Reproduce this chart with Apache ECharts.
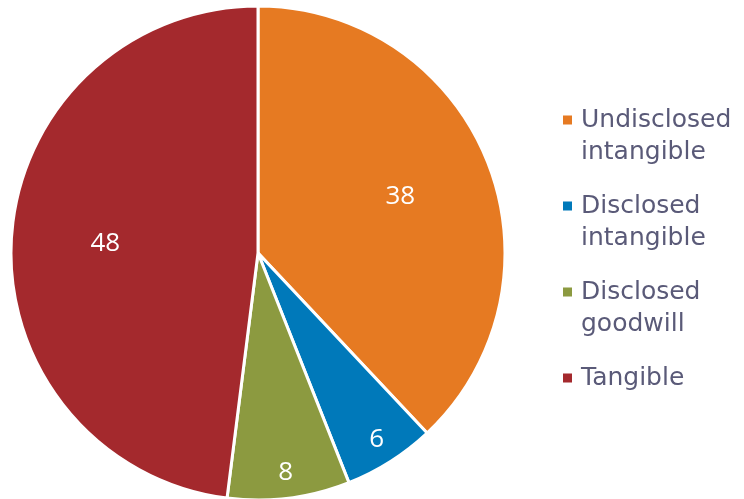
<!DOCTYPE html>
<html><head><meta charset="utf-8">
<script src="https://cdn.jsdelivr.net/npm/echarts@6/dist/echarts.min.js"></script>
<style>html,body{margin:0;padding:0;background:#fff}#c{width:744px;height:499px}</style>
</head><body><div id="c"></div>
<script>
const categories = ['Undisclosed intangible', 'Disclosed intangible', 'Disclosed goodwill', 'Tangible'];
const legendLabels = ['Undisclosed\nintangible', 'Disclosed\nintangible', 'Disclosed\ngoodwill', 'Tangible\n '];
const values = [38, 6, 8, 48];
const colors = ['#E67A22', '#0079BA', '#8C9A40', '#A4292D'];
const smallSlice = [false, true, true, false];

const chart = echarts.init(document.getElementById('c'), null, {renderer: 'canvas'});
const center = [258, 253];
const R = 247;
const mainData = categories.map((n, i) => ({name: n, value: values[i], itemStyle: {color: colors[i]}}));
function labelData(showSmall) {
  return categories.map((n, i) => ({name: n, value: values[i],
    label: {show: smallSlice[i] === showSmall}}));
}
const labelCommon = {
  type: 'pie', center: center, startAngle: 90, clockwise: true, silent: true,
  legendHoverLink: false, animation: false,
  itemStyle: {color: 'rgba(0,0,0,0)', borderWidth: 0},
  label: {position: 'inside', color: '#fff', fontFamily: 'Open Sans', fontSize: 26, formatter: '{c}'},
  labelLine: {show: false}
};
const legendIcon = 'path://M0,0L0.01,0L0,0.01Z M0,11.5L9,11.5L9,20.5L0,20.5Z M13,64L12.99,64L13,63.99Z';
chart.setOption({
  animation: false,
  legend: {
    orient: 'vertical', left: 563, top: 104, padding: 0,
    itemWidth: 13, itemHeight: 64, itemGap: 22,
    icon: legendIcon,
    itemStyle: {borderWidth: 0},
    formatter: function (name) { return legendLabels[categories.indexOf(name)]; },
    textStyle: {fontFamily: 'DejaVu Sans', fontSize: 25, lineHeight: 32, color: '#5A5A78'},
    data: categories
  },
  series: [
    {
      type: 'pie', name: 'main', center: center, radius: [0, R], startAngle: 90, clockwise: true,
      label: {show: false}, labelLine: {show: false},
      itemStyle: {borderColor: '#fff', borderWidth: 3},
      emphasis: {disabled: true},
      data: mainData
    },
    Object.assign({}, labelCommon, {name: 'lblBig', radius: [53, R], data: labelData(false)}),
    Object.assign({}, labelCommon, {name: 'lblSmall', radius: [190, R], data: labelData(true)})
  ]
});
</script></body></html>
